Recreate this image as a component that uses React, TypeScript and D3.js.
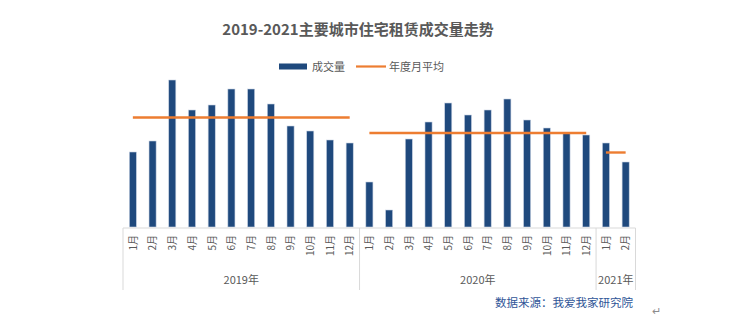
import React from "react";
import * as d3 from "d3";

const years = ["2019年", "2020年", "2021年"];
const months2019 = ["1月","2月","3月","4月","5月","6月","7月","8月","9月","10月","11月","12月"];
const months2020 = ["1月","2月","3月","4月","5月","6月","7月","8月","9月","10月","11月","12月"];
const months2021 = ["1月","2月"];
const volume2019 = [75, 86, 147, 117, 122, 138, 138, 123, 101, 96, 87, 84];
const volume2020 = [45, 17, 88, 105, 124, 112, 117, 128, 107, 99, 94, 92];
const volume2021 = [84, 65];

const W = 740, H = 326;
const FONT = "'Noto Sans CJK SC', 'Noto Sans', sans-serif";
const BAR = "#1f497d";
const ORANGE = "#ed7d31";
const GRAY = "#595959";

export default function App() {
  const groups = [
    { year: years[0], months: months2019, vals: volume2019 },
    { year: years[1], months: months2020, vals: volume2020 },
    { year: years[2], months: months2021, vals: volume2021 },
  ];
  const cats: { key: string; label: string; v: number; g: number }[] = [];
  groups.forEach((g, gi) => g.months.forEach((m, i) => cats.push({ key: g.year + m, label: m, v: g.vals[i], g: gi })));

  const x = d3.scaleBand<string>().domain(cats.map(c => c.key)).range([123, 635.5]).paddingInner(0.64).paddingOuter(0.32);
  const y = d3.scaleLinear().domain([0, 160]).range([227, 67]);
  const bw = x.bandwidth();
  const step = x.step();
  const x0 = 123;
  const axisY = 228;

  const boundaries: number[] = [x0];
  let idx = 0;
  groups.forEach(g => { idx += g.months.length; boundaries.push(x0 + idx * step); });

  return (
    <svg width={W} height={H} style={{ position: "absolute", left: 0, top: 0, background: "#fff" }} fontFamily={FONT}>
      <text x={358} y={35} textAnchor="middle" fontSize={15} fontWeight="bold" fill={GRAY}>2019-2021主要城市住宅租赁成交量走势</text>
      {/* legend */}
      <rect x={279} y={63.5} width={28} height={6} fill={BAR} />
      <text x={312} y={71} fontSize={11} fill={GRAY}>成交量</text>
      <line x1={356} x2={386} y1={66.5} y2={66.5} stroke={ORANGE} strokeWidth={2.2} />
      <text x={389} y={71} fontSize={11} fill={GRAY}>年度月平均</text>

      {cats.map(c => (
        <rect key={c.key} x={x(c.key)!} y={y(c.v)} width={bw} height={y(0) - y(c.v)} fill={BAR} stroke="#c9d3e3" strokeWidth={0.6} />
      ))}

      {groups.map((g, gi) => {
        const mean = d3.mean(g.vals)!;
        const first = g.year + g.months[0];
        const last = g.year + g.months[g.months.length - 1];
        return (
          <line key={gi} x1={x(first)! + bw / 2} x2={x(last)! + bw / 2} y1={y(mean)} y2={y(mean)} stroke={ORANGE} strokeWidth={2.4} />
        );
      })}

      <line x1={x0} x2={boundaries[boundaries.length - 1]} y1={axisY} y2={axisY} stroke="#d9d9d9" strokeWidth={1} />
      {boundaries.map((b, i) => (
        <line key={i} x1={b} x2={b} y1={axisY} y2={290} stroke="#d9d9d9" strokeWidth={1} />
      ))}

      {cats.map(c => {
        const cx = x(c.key)! + bw / 2;
        return (
          <text key={c.key} transform={`translate(${cx + 3.8},${235}) rotate(-90)`} fontSize={10} fill={GRAY} textAnchor="end">{c.label}</text>
        );
      })}

      {groups.map((g, gi) => (
        <text key={gi} x={(boundaries[gi] + boundaries[gi + 1]) / 2} y={284} textAnchor="middle" fontSize={11} fill={GRAY}>{g.year}</text>
      ))}

      <text x={633} y={307} textAnchor="end" fontSize={11.5} fill="#2f5597">数据来源：我爱我家研究院</text>
      <text x={652} y={315} fontSize={11} fill="#8c8c8c">↵</text>
    </svg>
  );
}
